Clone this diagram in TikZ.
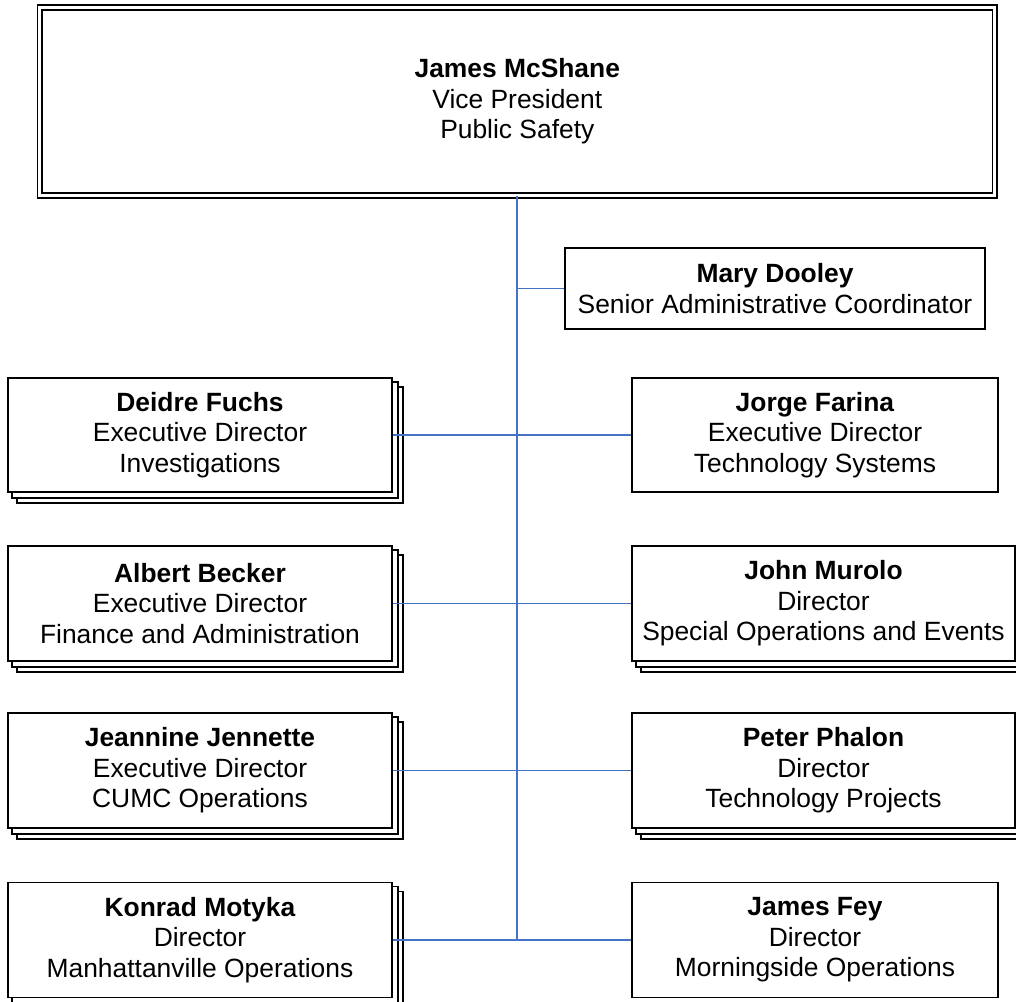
\documentclass[tikz,border=0pt]{standalone}
\usepackage{fontspec}
\setmainfont{Liberation Sans}
\usetikzlibrary{backgrounds}
\definecolor{linkblue}{HTML}{4472C4}
\tikzset{
  orgbox/.style={draw=black, line width=1.8pt, fill=white, align=center, inner sep=0pt,
    font=\fontsize{26.4}{30.4}\selectfont},
  shadowbox/.style={draw=black, line width=1.5pt, fill=white},
  conn/.style={draw=linkblue, line width=1.9pt},
}
\newcommand{\stackshadow}[1]{%
  \begin{scope}[on background layer]
    \path[shadowbox] ([shift={(10,10)}]#1.north west) rectangle ([shift={(10,10)}]#1.south east);
    \path[shadowbox] ([shift={(5,5)}]#1.north west) rectangle ([shift={(5,5)}]#1.south east);
  \end{scope}}
\begin{document}
\begin{tikzpicture}[x=1pt,y=-1pt]
\clip (0,0) rectangle (1016,1001);

\node[orgbox, double, double distance=3pt, line width=1.8pt, minimum width=955pt, minimum height=187.5pt] (vp) at (517.3,101.5)
  {\textbf{James McShane}\\Vice President\\Public Safety};

\node[orgbox, minimum width=420pt, minimum height=81pt] (mary) at (775,288.5)
  {\textbf{Mary Dooley}\\Senior Administrative Coordinator};

\node[orgbox, minimum width=384pt, minimum height=114pt] (deidre) at (200,435)
  {\textbf{Deidre Fuchs}\\Executive Director\\Investigations};
\node[orgbox, minimum width=366pt, minimum height=114pt] (jorge) at (815,435)
  {\textbf{Jorge Farina}\\Executive Director\\Technology Systems};

\node[orgbox, minimum width=384pt, minimum height=115pt] (albert) at (200,603.5)
  {\textbf{Albert Becker}\\Executive Director\\Finance and Administration};
\node[orgbox, minimum width=383pt, minimum height=115pt] (john) at (823.5,603.5)
  {\textbf{John Murolo}\\Director\\Special Operations and Events};

\node[orgbox, minimum width=384pt, minimum height=115pt] (jeannine) at (200,770.5)
  {\textbf{Jeannine Jennette}\\Executive Director\\CUMC Operations};
\node[orgbox, minimum width=383pt, minimum height=115pt] (peter) at (823.5,770.5)
  {\textbf{Peter Phalon}\\Director\\Technology Projects};

\node[orgbox, minimum width=384pt, minimum height=115pt] (konrad) at (200,940)
  {\textbf{Konrad Motyka}\\Director\\Manhattanville Operations};
\node[orgbox, minimum width=366pt, minimum height=115pt] (fey) at (815,940)
  {\textbf{James Fey}\\Director\\Morningside Operations};

\stackshadow{deidre}
\stackshadow{albert}
\stackshadow{jeannine}
\stackshadow{konrad}
\stackshadow{john}
\stackshadow{peter}

\coordinate (bottomjoin) at (vp.south |- fey.west);
\coordinate (maryjoin) at (vp.south |- mary.west);

\draw[conn] (vp.south) -- (bottomjoin);
\draw[conn] (maryjoin) -- (mary.west);
\draw[conn] (deidre.east) -- (jorge.west);
\draw[conn] (albert.east) -- (john.west);
\draw[conn] (jeannine.east) -- (peter.west);
\draw[conn] (konrad.east) -- (fey.west);
\end{tikzpicture}
\end{document}
